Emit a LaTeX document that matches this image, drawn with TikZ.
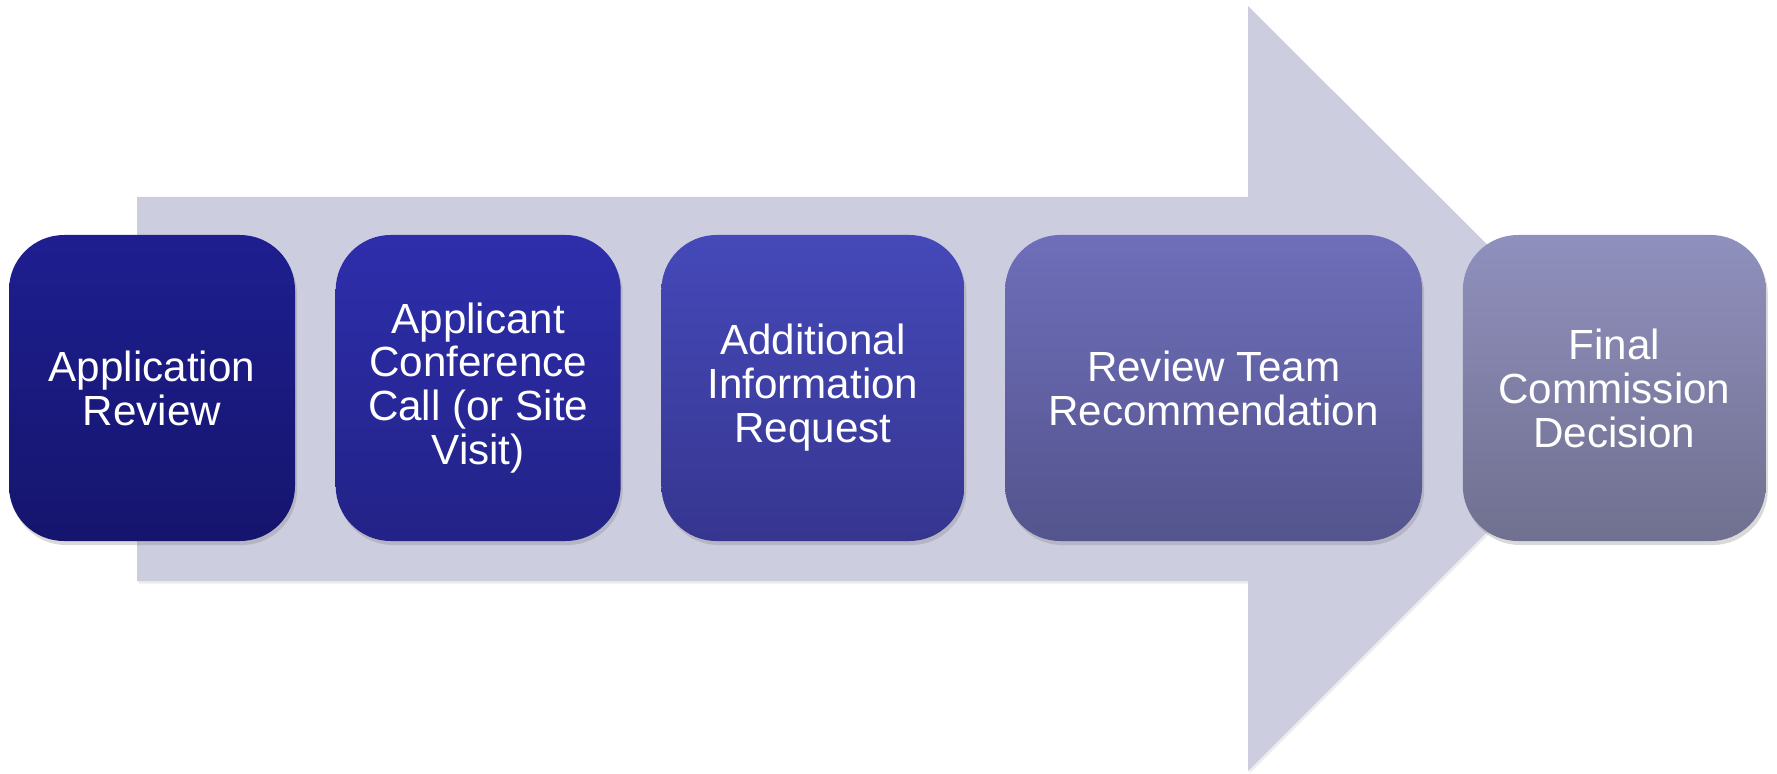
\documentclass[tikz,border=0pt]{standalone}
\usepackage{fontspec}
\setmainfont{Liberation Sans}
\usepackage{xcolor}
\usepackage{tikz}
\usetikzlibrary{positioning,shadows}

\definecolor{arrowgray}{HTML}{CDCDE0}
\definecolor{stepAtop}{HTML}{1E1E90}\definecolor{stepAbot}{HTML}{15156E}
\definecolor{stepBtop}{HTML}{2E2EAC}\definecolor{stepBbot}{HTML}{222287}
\definecolor{stepCtop}{HTML}{4549B9}\definecolor{stepCbot}{HTML}{363690}
\definecolor{stepDtop}{HTML}{6E6EBA}\definecolor{stepDbot}{HTML}{54548E}
\definecolor{stepEtop}{HTML}{9090BE}\definecolor{stepEbot}{HTML}{707090}

\tikzset{
  stepbox/.style={rectangle, rounded corners=11mm, minimum height=61.2mm,
    text=white, align=center, font=\fontsize{24}{25}\selectfont,
    drop shadow={shadow xshift=0.4mm, shadow yshift=-0.8mm, opacity=0.3}},
}

\begin{document}
\begin{tikzpicture}[node distance=8mm]
		\useasboundingbox (0,0) rectangle (355.4mm,-154.8mm);
		% Big arrow
		\fill [arrowgray, drop shadow={shadow xshift=0.3mm, shadow yshift=-0.5mm, opacity=0.15}]
			(27.4mm,-39.4mm) -- (249.6mm,-39.4mm) -- (249.6mm,-1.2mm) -- (326.2mm,-77.6mm)
			-- (249.6mm,-154.2mm) -- (249.6mm,-116.2mm) -- (27.4mm,-116.2mm) -- cycle;
		
		% Nodes
		\node [stepbox, minimum width=57.2mm, top color=stepAtop, bottom color=stepAbot]
			(review) at (30.4mm,-77.6mm) {Application\\Review};
		\node [stepbox, minimum width=57mm, top color=stepBtop, bottom color=stepBbot, right=of review]
			(call) {Applicant\\Conference\\Call (or Site\\Visit)};
		\node [stepbox, minimum width=60.6mm, top color=stepCtop, bottom color=stepCbot, right=of call]
			(request) {Additional\\Information\\Request};
		\node [stepbox, minimum width=83.4mm, top color=stepDtop, bottom color=stepDbot, right=of request]
			(recommend) {Review Team\\Recommendation};
		\node [stepbox, minimum width=60.6mm, top color=stepEtop, bottom color=stepEbot, right=of recommend]
			(decision) {Final\\Commission\\Decision};
	\end{tikzpicture}
\end{document}
